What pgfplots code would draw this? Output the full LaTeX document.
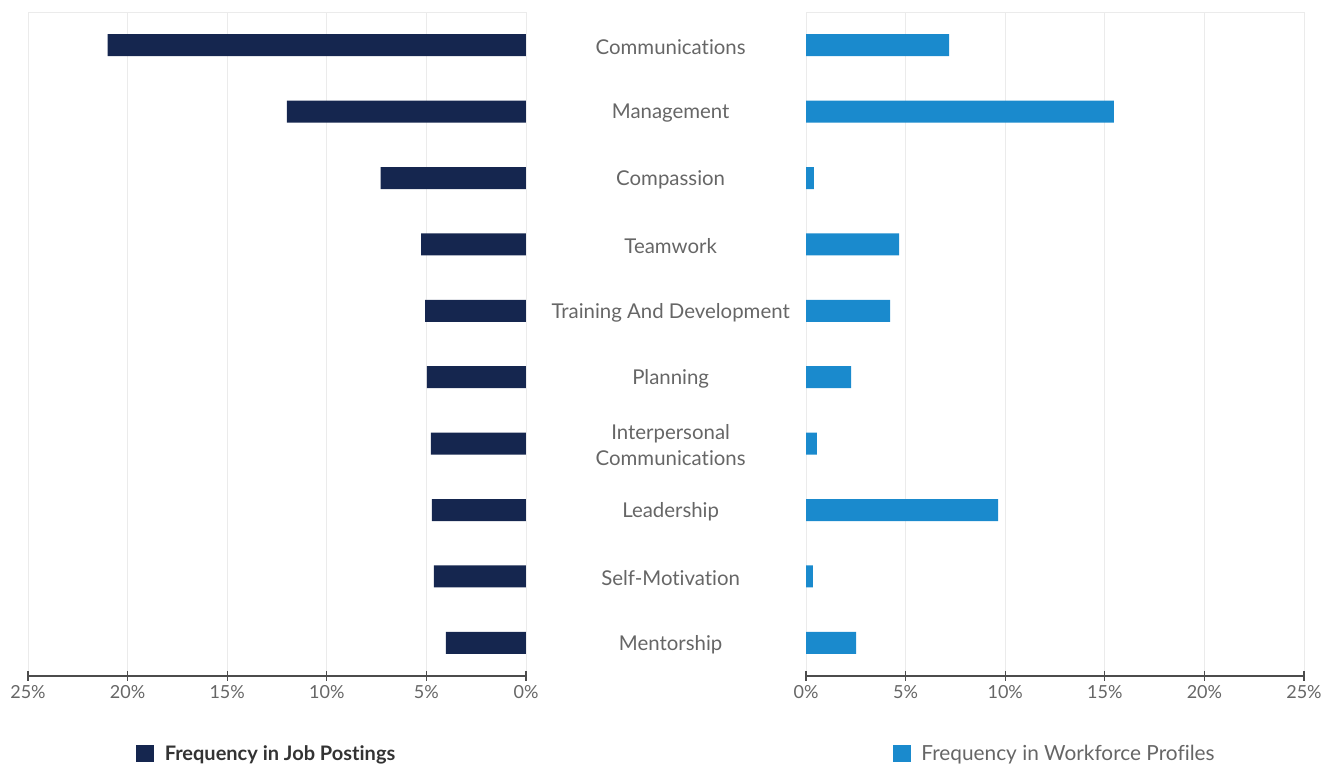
\documentclass[border=0pt]{standalone}
\usepackage{pgfplots}
\pgfplotsset{compat=1.18}
\usepackage{fontspec}
\setmainfont{Lato}[Ligatures=NoCommon]
\definecolor{navy}{HTML}{15264F}
\definecolor{skyb}{HTML}{1A8ACD}
\definecolor{txtgrey}{HTML}{666666}
\definecolor{gridgrey}{HTML}{EBEBEB}

\pgfplotsset{
  twin/.style={
    width=373.5pt, height=498pt, scale only axis,
    xbar, bar width=16.5pt,
    xmin=0, xmax=25, ymin=-0.5, ymax=9.5,
    xtick={0,5,...,25},
    xticklabels={0\%,5\%,10\%,15\%,20\%,25\%},
    axis x line*=bottom,
    axis y line*=right,
    y axis line style={draw=none},
    x axis line style={draw=black!70, line width=0.8pt},
    xtick style={draw=black!70, line width=0.8pt},
    tick align=center, major tick length=7pt,
    ytick style={draw=none},
    xmajorgrids, major grid style={gridgrey, line width=0.7pt},
    tick label style={font=\fontsize{13.5}{15}\selectfont, text=txtgrey},
    legend style={draw=none, fill=none, anchor=center,
      /tikz/every odd column/.append style={column sep=6pt}},
    legend image code/.code={\fill[#1] (0pt,-6.5pt) rectangle (13.5pt,6.5pt);},
  }
}

\begin{document}
\begin{tikzpicture}
\path[use as bounding box] (0pt,0pt) rectangle (1005.75pt,-576.75pt);

\begin{axis}[twin, at={(21pt,-507pt)}, anchor=south west,
  x dir=reverse,
  ytick={0,...,9},
  yticklabel pos=right,
  yticklabels={Mentorship, Self-Motivation, Leadership, {Interpersonal\\Communications},
    Planning, Training And Development, Teamwork, Compassion, Management, Communications},
  yticklabel style={anchor=center, xshift=105pt, yshift=-1.2pt, align=center,
    font=\fontsize{15.3}{19}\selectfont, text=txtgrey},
  legend style={at={(0.48,-0.117)}, text=black!80, font=\fontsize{15}{16}\selectfont\bfseries},
]
\addplot[fill=navy, draw=none] coordinates {
  (21.0,9) (12.0,8) (7.3,7) (5.27,6) (5.07,5) (4.97,4) (4.77,3) (4.72,2) (4.62,1) (4.02,0)};
\addlegendentry{Frequency in Job Postings}
\draw[gridgrey, line width=0.7pt] (rel axis cs:0,1) -- (rel axis cs:1,1);
\end{axis}

\begin{axis}[twin, at={(604.5pt,-507pt)}, anchor=south west,
  ytick=\empty,
  legend style={at={(0.5,-0.117)}, text=txtgrey, font=\fontsize{15.6}{17}\selectfont},
]
\addplot[fill=skyb, draw=none] coordinates {
  (7.18,9) (15.46,8) (0.4,7) (4.67,6) (4.22,5) (2.26,4) (0.55,3) (9.64,2) (0.35,1) (2.51,0)};
\addlegendentry{Frequency in Workforce Profiles}
\draw[gridgrey, line width=0.7pt] (rel axis cs:0,1) -- (rel axis cs:1,1);
\end{axis}
\end{tikzpicture}
\end{document}
